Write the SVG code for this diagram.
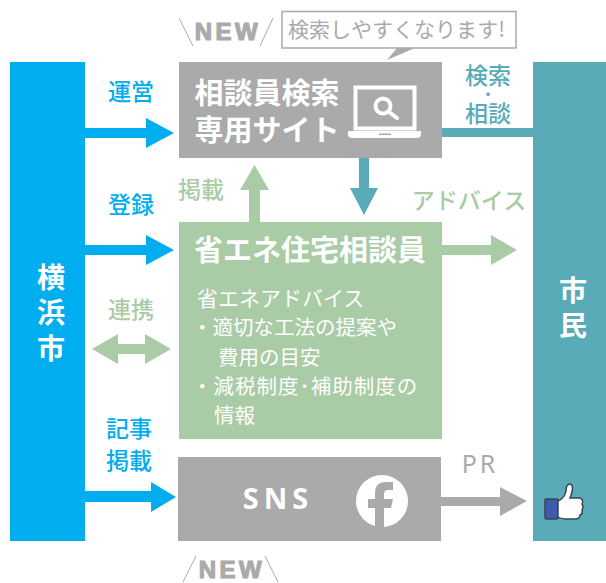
<svg xmlns="http://www.w3.org/2000/svg" width="606" height="583" viewBox="0 0 606 583">
<style>
text{font-family:"Noto Sans CJK JP","Noto Sans",sans-serif;text-anchor:middle}
.b{font-weight:700}.w{fill:#fff}
.blue{fill:#00aeef}.teal{fill:#5aabb8}.green{fill:#a9cba5}.gray{fill:#aaaaaa}
.lab{font-size:23px;font-weight:500}
.adv{font-size:20.500px;font-weight:400;fill:#fff;text-anchor:start}
.new{font-family:"Liberation Sans",sans-serif;font-weight:700;font-size:24px;fill:#aaa;letter-spacing:3.500px;stroke:#aaa;stroke-width:1.200}
.sl{stroke:#aaa;stroke-width:1;fill:none}
</style>
<g id="yokohama"><rect class="blue" x="10" y="62" width="75" height="479"/>
<text class="b w" font-size="28"><tspan x="51" y="288">横</tspan><tspan x="51" y="323">浜</tspan><tspan x="51" y="359">市</tspan></text></g>
<g id="citizen"><rect class="teal" x="533" y="62" width="73" height="479"/>
<text class="b w" font-size="28"><tspan x="573" y="301">市</tspan><tspan x="573" y="336">民</tspan></text></g>
<g id="search-site"><rect class="gray" x="179" y="62" width="263" height="96"/>
<text class="b w" font-size="29"><tspan x="267" y="104">相談員検索</tspan><tspan x="267" y="141">専用サイト</tspan></text>
<g id="laptop">
<rect x="355.500" y="87.500" width="59" height="41" fill="none" stroke="#fff" stroke-width="4"/>
<path d="M348 131H421V134Q421 138 417 138H352Q348 138 348 134Z" fill="#fff"/>
<rect x="379" y="133.500" width="12" height="1.500" fill="#aaa"/>
<circle cx="383" cy="106" r="7.500" fill="none" stroke="#fff" stroke-width="4"/>
<path d="M389 112L397 118" stroke="#fff" stroke-width="4" stroke-linecap="round"/></g></g>
<g id="advisor"><rect class="green" x="179" y="222" width="263" height="217"/>
<text class="b w" x="310" y="261" font-size="29">省エネ住宅相談員</text>
<text class="adv"><tspan x="197" y="306" style="font-size:21px">省エネアドバイス</tspan><tspan x="192" y="335">・適切な工法の提案や</tspan><tspan x="218" y="365">費用の目安</tspan><tspan x="192" y="394" letter-spacing="1">・減税制度･補助制度の</tspan><tspan x="214" y="423">情報</tspan></text></g>
<g id="sns"><rect class="gray" x="178" y="457" width="263" height="84"/>
<text class="b w" x="278" y="509" font-size="29" letter-spacing="5" style="font-family:'Noto Sans',sans-serif">SNS</text>
<circle cx="382" cy="501" r="26" fill="#fff"/>
<path d="M375 527V508H368V499H375V493Q375 482 386 482H393V490H388Q384 490 384 494V499H393L391 508H384V527Z" fill="#aaa"/></g>
<g id="connectors">
<path class="blue" d="M85 128H146V118L174 133L146 148V138H85Z"/>
<path class="blue" d="M85 245H146V235L174 250L146 265V255H85Z"/>
<path class="blue" d="M85 491H151V482L176 497L151 512V502H85Z"/>
<path class="green" d="M92 349L118 334V344H145V334L171 349L145 364V354H118V364Z"/>
<path class="green" d="M249 222V190H240L254.500 165L269 190H260V222Z"/>
<path class="teal" d="M442 128H533V137H442Z"/>
<path class="teal" d="M359 158H369V188H378L364 215L350 188H359Z"/>
<path class="green" d="M442 245H491V235L517 250L491 265V255H442Z"/>
<path class="gray" d="M441 497H500V487L527 501L500 516V506H441Z"/>
</g>
<g id="labels">
<text class="lab blue" x="131" y="100">運営</text>
<text class="lab blue" x="131" y="213">登録</text>
<text class="lab green" x="131" y="318">連携</text>
<text class="lab blue"><tspan x="129" y="437">記事</tspan><tspan x="129" y="469">掲載</tspan></text>
<text class="lab teal"><tspan x="488" y="84">検索</tspan><tspan x="488" y="99" font-weight="700" style="font-size:14px">・</tspan><tspan x="488" y="122">相談</tspan></text>
<text class="lab green" x="201" y="198">掲載</text>
<text class="lab green" x="469" y="209">アドバイス</text>
<text class="lab gray" x="480" y="473" style="font-family:'Noto Sans',sans-serif;font-weight:400;font-size:25px" letter-spacing="3">PR</text>
</g>
<g id="new-top"><text class="new" x="228" y="40">NEW</text>
<path class="sl" d="M179 18L193 46M273 18L260 46"/></g>
<g id="new-bottom"><text class="new" x="232" y="578">NEW</text>
<path class="sl" d="M183 582L196 556M278 582L265 556"/></g>
<g id="callout">
<path d="M282 11.500H516V48H282Z" fill="#fff" stroke="#aaa" stroke-width="1.500"/>
<path d="M397 48H415L387 60Z" fill="#aaa"/>
<text x="396.500" y="37" font-size="21" fill="#aaa" textLength="217">検索しやすくなります!</text></g>
<g id="thumb">
<rect x="545" y="499" width="13" height="20" rx="1" fill="#3b5bab" stroke="#3c4650" stroke-width="1.500"/>
<path d="M558 501Q565 498 566 491Q566 484 570 484Q575 485 570 498H580Q584 500 582 504Q584 507 582 510Q583 514 580 515Q580 519 575 519H566Q561 519 558 517Z" fill="#fff" stroke="#3c4650" stroke-width="1.500"/></g>
</svg>
